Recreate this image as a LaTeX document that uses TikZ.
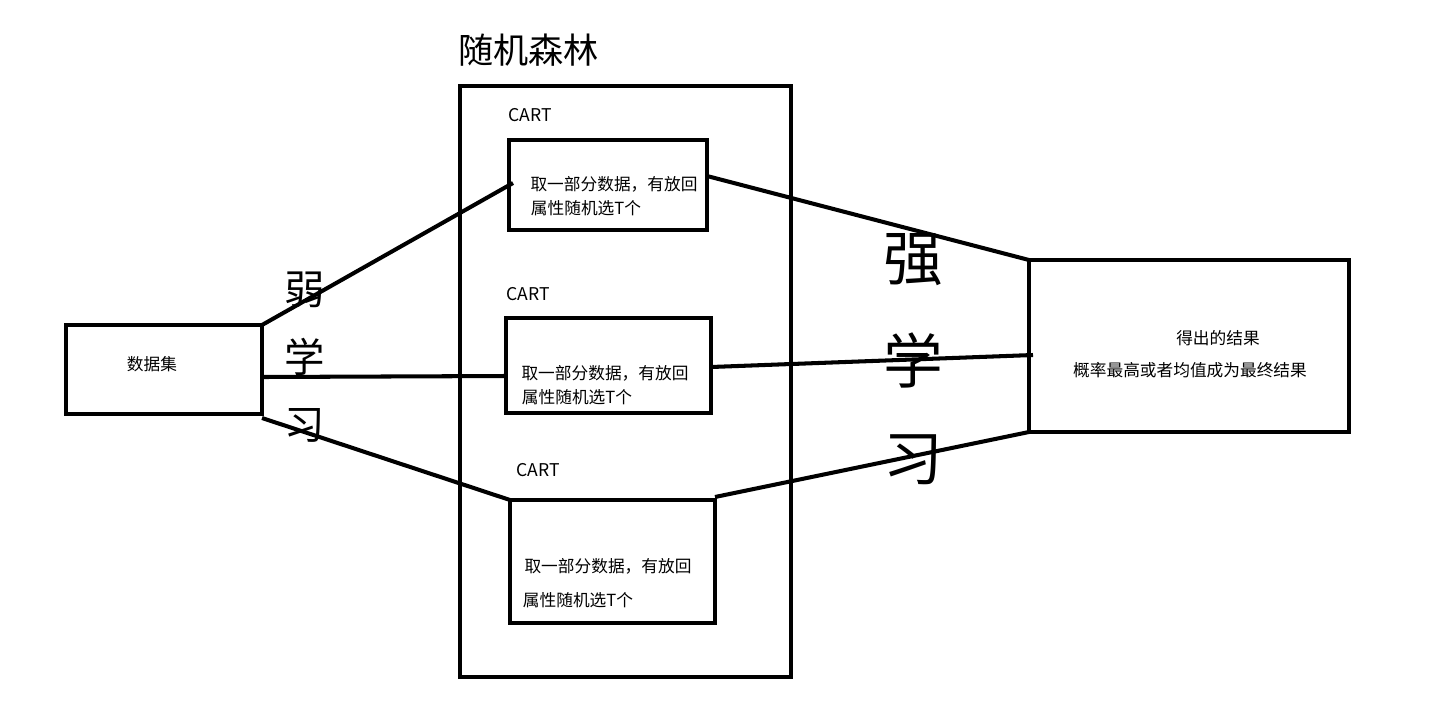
\documentclass[tikz,border=0pt]{standalone}
\usepackage{fontspec}
\newfontfamily\cjk{Noto Sans CJK SC}
\begin{document}
\begin{tikzpicture}[x=0.02cm,y=-0.02cm,
 box/.style={draw,line width=2.3pt},
 ln/.style={line width=2.3pt},
 sm/.style={font=\cjk\fontsize{9.5}{11}\selectfont,inner sep=0},
 cart/.style={font=\cjk\fontsize{10}{12}\selectfont,inner sep=0}]
\useasboundingbox (0,0) rectangle (1449,727);
\draw[box] (66,325) rectangle (262,414);
\node[sm] (ds) at (152,364) {数据集};
\coordinate (d1) at (262,325); \coordinate (d2) at (262,377); \coordinate (d3) at (262,418);
\draw[box] (460,86) rectangle (791,677);
\node[font=\cjk\fontsize{20}{24}\selectfont,anchor=west,inner sep=0] (rf) at (458,50) {随机森林};
\node[cart] (c1l) at (530,115) {CART};
\draw[box] (509,140) rectangle (707,230);
\node[sm] (t1a) at (614,184) {取一部分数据，有放回};
\node[sm] (t1b) at (586,208) {属性随机选T个};
\node[cart] (c2l) at (528,294) {CART};
\draw[box] (506,318) rectangle (711,413);
\node[sm] (t2a) at (605,373) {取一部分数据，有放回};
\node[sm] (t2b) at (577,397) {属性随机选T个};
\node[cart] (c3l) at (538,470) {CART};
\draw[box] (510,500) rectangle (715,623);
\node[sm] (t3a) at (608,566) {取一部分数据，有放回};
\node[sm] (t3b) at (578,600) {属性随机选T个};
\draw[box] (1029,260) rectangle (1349,432);
\node[sm] (r1) at (1218,338) {得出的结果};
\node[sm] (r2) at (1190,370) {概率最高或者均值成为最终结果};
\foreach \c/\y in {弱/290,学/357,习/425}
  \node[font=\cjk\fontsize{23}{26}\selectfont,inner sep=0] at (305,\y) {\c};
\foreach \c/\y in {强/260,学/360,习/460}
  \node[font=\cjk\fontsize{34}{38}\selectfont,inner sep=0] at (913,\y) {\c};
\coordinate (a1) at (513,183); \coordinate (a2) at (506,376); \coordinate (a3) at (510,500);
\coordinate (b1) at (707,176); \coordinate (b2) at (711,367); \coordinate (b3) at (715,497);
\coordinate (e1) at (1029,260); \coordinate (e2) at (1033,355); \coordinate (e3) at (1029,432);
\draw[ln] (d1)--(a1); \draw[ln] (d2)--(a2); \draw[ln] (d3)--(a3);
\draw[ln] (b1)--(e1); \draw[ln] (b2)--(e2); \draw[ln] (b3)--(e3);
\end{tikzpicture}
\end{document}
